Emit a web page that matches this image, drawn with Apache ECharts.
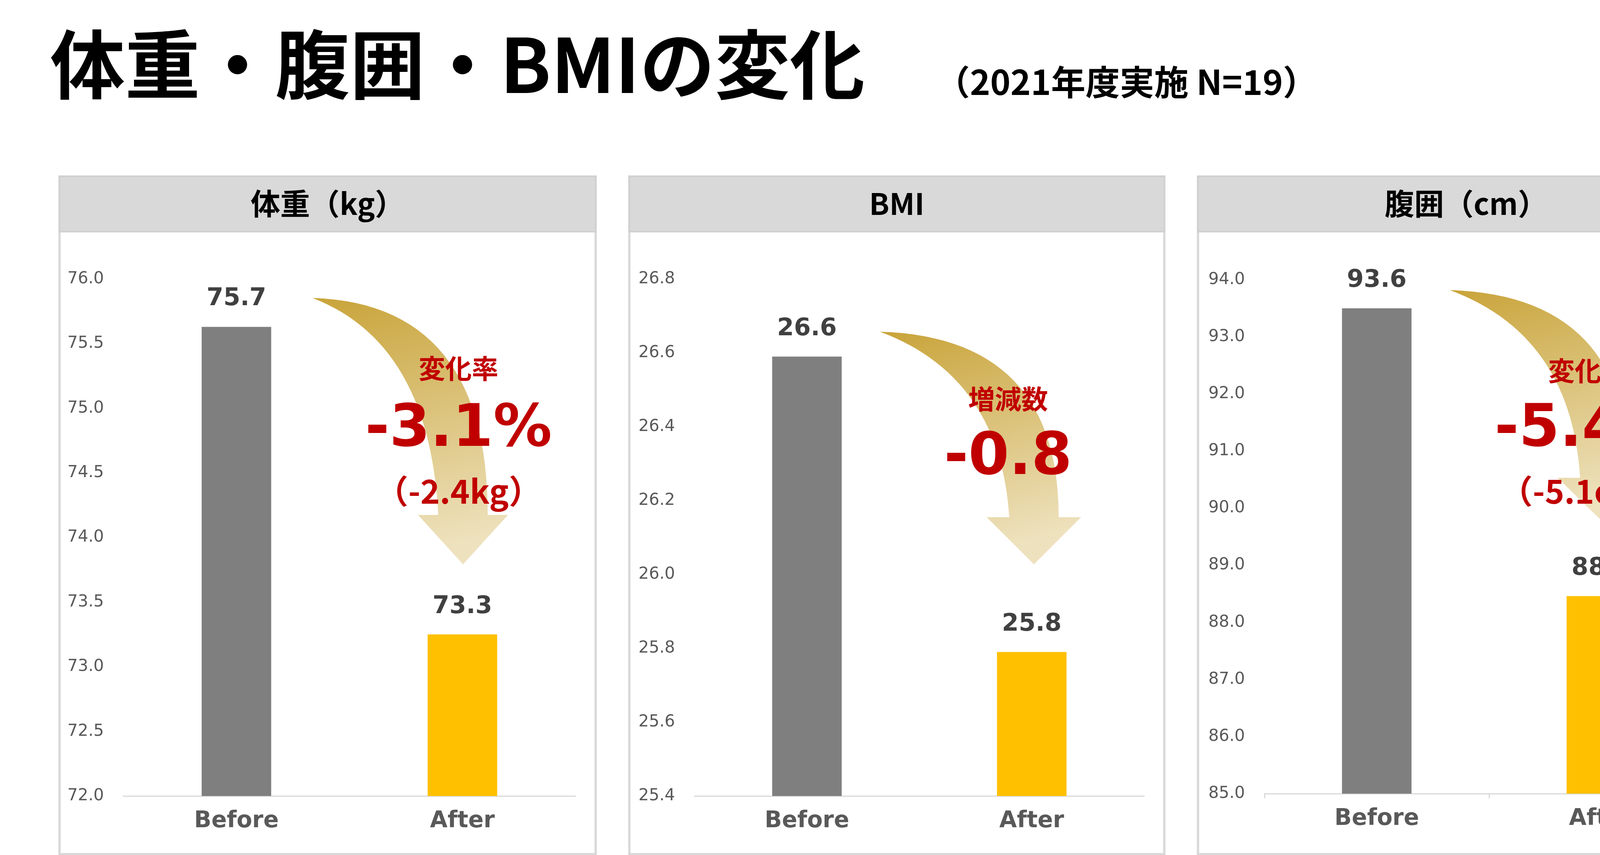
<!DOCTYPE html>
<html><head><meta charset="utf-8">
<script src="https://cdn.jsdelivr.net/npm/echarts@6/dist/echarts.min.js"></script>
<style>html,body{margin:0;padding:0;background:#fff}#c{width:4488px;height:2188px}</style>
</head><body><div id="c"></div>
<script>
const categories = ['Before', 'After'];
const weightValues = [75.63, 73.25];
const weightLabels = ['75.7', '73.3'];
const bmiValues = [26.59, 25.79];
const bmiLabels = ['26.6', '25.8'];
const waistValues = [93.5, 88.46];
const waistLabels = ['93.6', '88.5'];
const panelTitles = ['体重（kg）', 'BMI', '腹囲（cm）'];
const annotations = [
  ['変化率', '-3.1%', '（-2.4kg）'],
  ['増減数', '-0.8', ''],
  ['変化率', '-5.4%', '（-5.1cm）']
];

const K = 2.877;
const NUM = '"DejaVu Sans", "Noto Sans CJK JP", sans-serif';
const JP = '"Noto Sans CJK JP", sans-serif';
const chart = echarts.init(document.getElementById('c'));

const panels = [
  {x0: 53, x1: 530, gl: 316, gr: 1473, top: 714, bottom: 151, min: 72, max: 76, interval: 0.5, dec: 1, vals: weightValues, labs: weightLabels},
  {x0: 560, x1: 1036, gl: 1778, gr: 2929, top: 714, bottom: 151, min: 25.4, max: 26.8, interval: 0.2, dec: 1, vals: bmiValues, labs: bmiLabels},
  {x0: 1066, x1: 1543, gl: 3237, gr: 4387, top: 716, bottom: 157, min: 85, max: 94, interval: 1, dec: 1, vals: waistValues, labs: waistLabels}
];
const arrowsDef = [
  {tx: 278, ty: 265, hx: 412, hy: 458, tip: 502, hw: 40, sw: 22},
  {tx: 783, ty: 295, hx: 920, hy: 460, tip: 502, hw: 42, sw: 22},
  {tx: 1290, ty: 258, hx: 1428, hy: 425, tip: 466, hw: 42, sw: 22}
];
const annPos = [
  {x: 408, y: [328, 383, 437]},
  {x: 897, y: [355, 408, 0]},
  {x: 1413, y: [330, 383, 437]}
];

function quad(p0, c, p1, n) {
  const pts = [];
  for (let k = 0; k <= n; k++) {
    const t = k / n, u = 1 - t;
    pts.push([(u*u*p0[0] + 2*u*t*c[0] + t*t*p1[0]) * K, (u*u*p0[1] + 2*u*t*c[1] + t*t*p1[1]) * K]);
  }
  return pts;
}

const grid = [], xAxis = [], yAxis = [], series = [], graphic = [];
panels.forEach((p, i) => {
  graphic.push({type: 'rect', z: 0, shape: {x: p.x0 * K, y: 157 * K, width: (p.x1 - p.x0) * K, height: 2188 - 157 * K - 2},
    style: {fill: '#fff', stroke: '#D9D9D9', lineWidth: 6}});
  graphic.push({type: 'rect', z: 1, shape: {x: p.x0 * K, y: 157 * K, width: (p.x1 - p.x0) * K, height: 49 * K},
    style: {fill: '#D9D9D9', stroke: '#D0D0D0', lineWidth: 4}});
  graphic.push({type: 'text', z: 2, x: (p.x0 + p.x1) / 2 * K, y: 181 * K,
    style: {text: panelTitles[i], font: 'bold 76px ' + JP, fill: '#000', align: 'center', verticalAlign: 'middle'}});
  grid.push({left: p.gl, width: p.gr - p.gl, top: p.top, bottom: p.bottom, z: 3});
  xAxis.push({type: 'category', gridIndex: i, data: categories,
    axisLine: {lineStyle: {color: '#D9D9D9', width: 3}}, axisTick: {show: i === 2, lineStyle: {color: '#D9D9D9', width: 3}, length: 12},
    axisLabel: {fontFamily: NUM, fontWeight: 'bold', fontSize: 58, color: '#595959', margin: 36}});
  yAxis.push({type: 'value', gridIndex: i, min: p.min, max: p.max, interval: p.interval,
    splitLine: {show: false}, axisLine: {show: false}, axisTick: {show: false},
    axisLabel: {fontFamily: NUM, fontSize: 42, color: '#595959', margin: 50, align: 'right',
      formatter: v => v.toFixed(p.dec)}});
  series.push({type: 'bar', xAxisIndex: i, yAxisIndex: i, barWidth: 178, z: 3,
    data: p.vals.map((v, j) => ({value: v, itemStyle: {color: j === 0 ? '#7F7F7F' : '#FFC000'}})),
    label: {show: true, position: 'top', distance: 40, fontFamily: NUM, fontWeight: 'bold', fontSize: 62, color: '#404040',
      formatter: o => p.labs[o.dataIndex]}});
  const a = arrowsDef[i];
  const outer = quad([a.tx, a.ty], [a.hx + a.sw, a.ty + 5], [a.hx + a.sw, a.hy], 30);
  const inner = quad([a.hx - a.sw, a.hy], [a.hx - a.sw - 8, a.ty + 40], [a.tx, a.ty], 30);
  const pts = outer.concat([[(a.hx + a.hw) * K, a.hy * K], [a.hx * K, a.tip * K], [(a.hx - a.hw) * K, a.hy * K]], inner);
  graphic.push({type: 'polygon', z: 10, shape: {points: pts},
    style: {fill: {type: 'linear', x: 0, y: 0, x2: 0.3, y2: 1, colorStops: [{offset: 0, color: '#C9A43A'}, {offset: 1, color: '#EEE2BE'}]}}});
  const ap = annPos[i], t = annotations[i];
  const sizes = [68, 150, 84];
  t.forEach((txt, j) => {
    if (!txt) return;
    graphic.push({type: 'text', z: 11, x: ap.x * K, y: ap.y[j] * K,
      style: {text: txt, font: 'bold ' + sizes[j] + 'px ' + (j === 1 ? NUM : JP), fill: '#C00000', align: 'center', verticalAlign: 'middle'}});
  });
});
graphic.push({type: 'text', x: 128, y: 165, style: {text: '体重・腹囲・BMIの変化', font: 'bold 192px ' + JP, fill: '#000', verticalAlign: 'middle'}});
graphic.push({type: 'text', x: 2395, y: 210, style: {text: '（2021年度実施 N=19）', font: 'bold 88px ' + JP, fill: '#000', verticalAlign: 'middle'}});

chart.setOption({animation: false, backgroundColor: '#fff', grid, xAxis, yAxis, series, graphic});
</script></body></html>
